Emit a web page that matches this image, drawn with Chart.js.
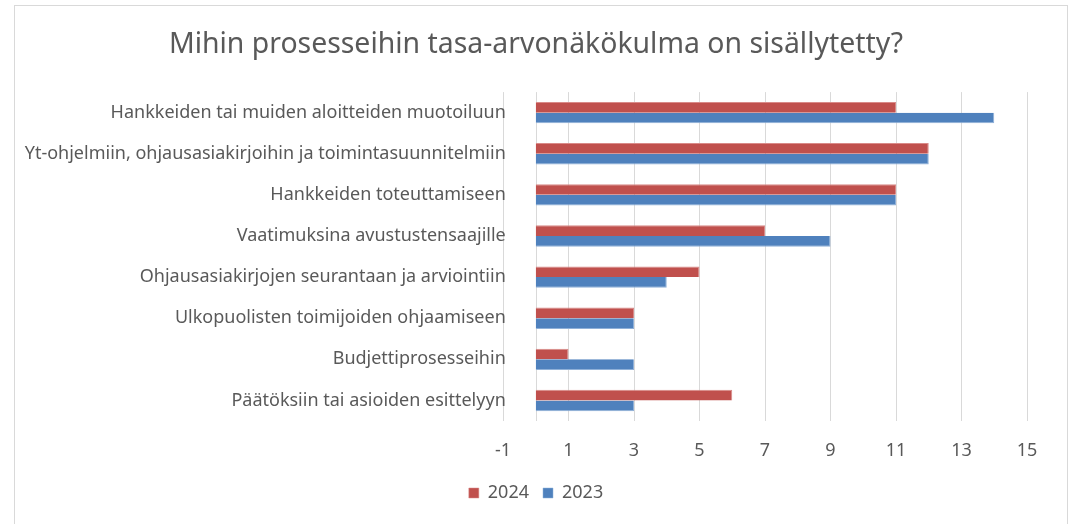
<!DOCTYPE html>
<html>
<head>
<meta charset="utf-8">
<script src="https://cdn.jsdelivr.net/npm/chart.js@4/dist/chart.umd.min.js"></script>
<style>
    html, body { margin: 0; padding: 0; background: #ffffff; }
    #wrap { position: relative; width: 1072px; height: 524px; }
    #frame {
        position: absolute; left: 14px; top: 5px; width: 1052px; height: 530px;
        border: 1px solid #d9d9d9; pointer-events: none;
    }
</style>
</head>
<body>
<div id="wrap">
    <canvas id="chart" width="1072" height="524"></canvas>
    <div id="frame"></div>
</div>
<script>
// 카테고리 / 시리즈 데이터
const categories = [
    'Hankkeiden tai muiden aloitteiden muotoiluun',
    'Yt-ohjelmiin, ohjausasiakirjoihin ja toimintasuunnitelmiin',
    'Hankkeiden toteuttamiseen',
    'Vaatimuksina avustustensaajille',
    'Ohjausasiakirjojen seurantaan ja arviointiin',
    'Ulkopuolisten toimijoiden ohjaamiseen',
    'Budjettiprosesseihin',
    'Päätöksiin tai asioiden esittelyyn'
];
const values2024 = [11, 12, 11, 7, 5, 3, 1, 6];
const values2023 = [14, 12, 11, 9, 4, 3, 3, 3];
const seriesLabels = ['2024', '2023'];
const xMin = -1;
const xMax = 15;
const xStep = 2;

const FONT = 'Noto Sans';
const TEXT_COLOR = '#595959';
const GRID_COLOR = '#d9d9d9';

// x=0 위치에 세로축 선 그리기 + 라벨 영역 확장
const zeroLinePlugin = {
    id: 'zeroLine',
    afterLayout(chart) {
        // 라벨이 잘리지 않도록 y축 영역을 캔버스 왼쪽 ~ 0선까지 넓힘
        chart.scales.y.left = 0;
        chart.scales.y.right = chart.scales.x.getPixelForValue(0);
    },
    beforeDatasetsDraw(chart) {
        const { ctx, chartArea, scales } = chart;
        const x0 = Math.round(scales.x.getPixelForValue(0)) + 0.5;
        ctx.save();
        ctx.strokeStyle = GRID_COLOR;
        ctx.lineWidth = 1;
        ctx.beginPath();
        ctx.moveTo(x0, chartArea.top);
        ctx.lineTo(x0, chartArea.bottom);
        ctx.stroke();
        ctx.restore();
    }
};

new Chart(document.getElementById('chart'), {
    type: 'bar',
    data: {
        labels: categories,
        datasets: [{
            label: seriesLabels[0],
            data: values2024,
            backgroundColor: '#C0504D',
            borderColor: '#d98a88',
            borderWidth: { top: 1, right: 1, bottom: 0, left: 0 },
            categoryPercentage: 0.52,
            barPercentage: 1.0
        }, {
            label: seriesLabels[1],
            data: values2023,
            backgroundColor: '#4F81BD',
            borderColor: '#8fb0d8',
            borderWidth: { top: 0, right: 1, bottom: 1, left: 0 },
            categoryPercentage: 0.52,
            barPercentage: 1.0
        }]
    },
    options: {
        indexAxis: 'y',
        responsive: false,
        animation: false,
        layout: { padding: { left: 45, right: 45, top: 0, bottom: 14 } },
        plugins: {
            title: {
                display: true,
                text: 'Mihin prosesseihin tasa-arvonäkökulma on sisällytetty?',
                color: TEXT_COLOR,
                font: { family: FONT, size: 28.4, weight: 'normal' },
                padding: { top: 28, bottom: 30 }
            },
            legend: {
                position: 'bottom',
                maxHeight: 40,
                labels: {
                    color: TEXT_COLOR,
                    font: { family: FONT, size: 18 },
                    boxWidth: 10,
                    boxHeight: 10,
                    padding: 14
                }
            },
            tooltip: { enabled: false }
        },
        scales: {
            x: {
                min: xMin,
                max: xMax,
                ticks: {
                    stepSize: xStep,
                    color: TEXT_COLOR,
                    font: { family: FONT, size: 18 },
                    padding: 19
                },
                grid: { color: GRID_COLOR, drawTicks: false },
                border: { display: false },
                afterFit(scale) { scale.height = 49; }
            },
            y: {
                ticks: {
                    color: TEXT_COLOR,
                    font: { family: FONT, size: 18 },
                    padding: 30,
                    autoSkip: false
                },
                grid: { display: false, drawTicks: false },
                border: { display: false },
                afterFit(scale) { scale.width = 458; }
            }
        }
    },
    plugins: [zeroLinePlugin]
});
</script>
</body>
</html>
